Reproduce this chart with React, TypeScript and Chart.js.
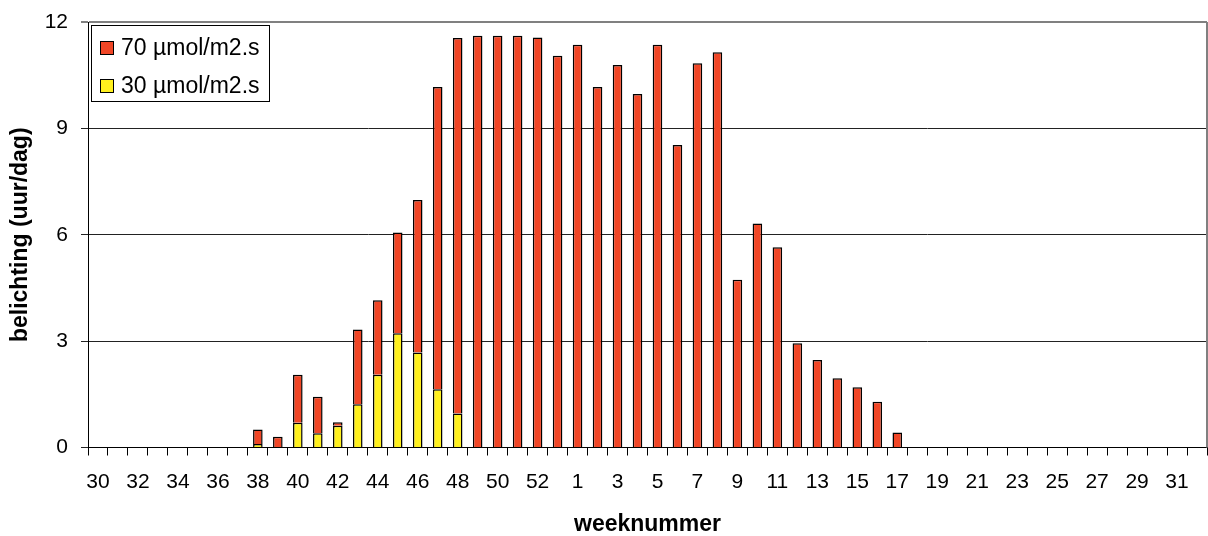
import React, { useEffect, useRef } from 'react';
import { Chart, registerables } from 'chart.js';

Chart.register(...registerables);

// Categories: week numbers (season from week 30 to week 32 of next year)
const weeks = [
  '30', '31', '32', '33', '34', '35', '36', '37', '38', '39', '40', '41', '42', '43', '44', '45',
  '46', '47', '48', '49', '50', '51', '52', '53',
  '1', '2', '3', '4', '5', '6', '7', '8', '9', '10', '11', '12', '13', '14', '15', '16',
  '17', '18', '19', '20', '21', '22', '23', '24', '25', '26', '27', '28', '29', '30', '31', '32',
];

// Series labels
const label70 = '70 µmol/m2.s';
const label30 = '30 µmol/m2.s';

// Hours per day at 70 µmol/m2.s (stacked on top)
const series70 = [
  0, 0, 0, 0, 0, 0, 0, 0,
  0.41, 0.3, 1.35, 1.03, 0.1, 2.11, 2.1, 2.84, 4.3, 8.53, 10.59, 11.61, 11.61, 11.61, 11.56, 11.05,
  11.36, 10.17, 10.79, 9.97, 11.36, 8.53, 10.84, 11.15, 4.73, 6.32, 5.65, 2.94, 2.47, 1.95, 1.7, 1.29, 0.42,
  0, 0, 0, 0, 0, 0, 0, 0, 0, 0, 0, 0, 0, 0, 0,
];

// Hours per day at 30 µmol/m2.s (bottom of stack)
const series30 = [
  0, 0, 0, 0, 0, 0, 0, 0,
  0.1, 0, 0.7, 0.4, 0.61, 1.22, 2.05, 3.22, 2.68, 1.64, 0.96, 0, 0, 0, 0, 0,
  0, 0, 0, 0, 0, 0, 0, 0, 0, 0, 0, 0, 0, 0, 0, 0, 0,
  0, 0, 0, 0, 0, 0, 0, 0, 0, 0, 0, 0, 0, 0, 0,
];

// Y axis range / ticks
const yMin = 0;
const yMax = 12;
const yStep = 3;

const RED = '#F04626';
const YELLOW = '#FFF01E';
const FONT = "'Liberation Sans', Arial, Helvetica, sans-serif";

const framePlugin = {
  id: 'frame',
  beforeDatasetsDraw(chart: any) {
    const { ctx, chartArea } = chart;
    ctx.save();
    ctx.strokeStyle = '#808080';
    ctx.lineWidth = 2;
    ctx.beginPath();
    ctx.moveTo(chartArea.right, chartArea.top);
    ctx.lineTo(chartArea.right, chartArea.bottom);
    ctx.stroke();
    ctx.restore();
  },
};

const legendPlugin = {
  id: 'boxLegend',
  afterDraw(chart: any) {
    const { ctx, chartArea } = chart;
    const x0 = Math.round(chartArea.left + 3) + 0.5;
    const y0 = Math.round(chartArea.top + 3) + 0.5;
    const w = 178;
    const h = 76;
    ctx.save();
    ctx.fillStyle = '#ffffff';
    ctx.fillRect(x0, y0, w, h);
    ctx.strokeStyle = '#000000';
    ctx.lineWidth = 1;
    ctx.strokeRect(x0, y0, w, h);
    const ds = chart.data.datasets;
    const items = [ds[1], ds[0]];
    items.forEach((d: any, k: number) => {
      const cy = y0 + 22 + k * 38.5;
      ctx.fillStyle = d.backgroundColor;
      ctx.fillRect(x0 + 9, Math.round(cy - 7) + 0.5, 13, 13);
      ctx.strokeStyle = '#000000';
      ctx.strokeRect(x0 + 9, Math.round(cy - 7) + 0.5, 13, 13);
      ctx.fillStyle = '#000000';
      ctx.font = `23px ${FONT}`;
      ctx.textBaseline = 'middle';
      ctx.textAlign = 'left';
      ctx.fillText(d.label, x0 + 29.5, cy + 1);
    });
    ctx.restore();
  },
};

export default function App() {
  const canvasRef = useRef<HTMLCanvasElement | null>(null);

  useEffect(() => {
    if (!canvasRef.current) return;
    const chart = new Chart(canvasRef.current, {
      type: 'bar',
      data: {
        labels: weeks,
        datasets: [
          {
            label: label30,
            data: series30,
            backgroundColor: YELLOW,
            borderColor: '#000000',
            borderWidth: 1.5,
            barPercentage: 0.48,
            categoryPercentage: 1,
          },
          {
            label: label70,
            data: series70,
            backgroundColor: RED,
            borderColor: '#000000',
            borderWidth: 1.5,
            barPercentage: 0.48,
            categoryPercentage: 1,
          },
        ],
      },
      options: {
        animation: false,
        responsive: false,
        devicePixelRatio: 1,
        layout: { padding: { top: 22, right: 1, left: 0, bottom: 0 } },
        plugins: {
          legend: { display: false },
          tooltip: { enabled: false },
        },
        scales: {
          x: {
            stacked: true,
            offset: true,
            grid: {
              display: true,
              offset: true,
              drawOnChartArea: false,
              drawTicks: true,
              tickLength: 8,
              color: '#000000',
              lineWidth: 1,
            },
            border: { display: true, color: '#000000', width: 1 },
            ticks: {
              autoSkip: false,
              maxRotation: 0,
              minRotation: 0,
              padding: 14,
              color: '#000000',
              font: { family: FONT, size: 21 },
              callback: (_v: any, i: number) => (i % 2 === 0 ? weeks[i] : ''),
            },
            title: {
              display: true,
              text: 'weeknummer',
              color: '#000000',
              font: { family: FONT, size: 23, weight: 'bold', lineHeight: 1 },
              padding: 0,
            },
            afterFit: (s: any) => {
              s.height = 88.5;
              s.paddingLeft = 0;
              s.paddingRight = 0;
            },
          },
          y: {
            stacked: true,
            min: yMin,
            max: yMax,
            ticks: {
              stepSize: yStep,
              padding: 13,
              color: '#000000',
              font: { family: FONT, size: 21 },
            },
            grid: {
              color: (c: any) => (c.tick && c.tick.value === yMax ? '#808080' : '#222222'),
              lineWidth: (c: any) => (c.tick && c.tick.value === yMax ? 2 : 1),
              tickLength: 7,
            },
            border: { display: true, color: '#000000', width: 1 },
            title: {
              display: true,
              text: 'belichting (uur/dag)',
              color: '#000000',
              font: { family: FONT, size: 23, weight: 'bold', lineHeight: 1 },
              padding: { top: 9, bottom: 0 },
            },
            afterFit: (s: any) => {
              s.width = 88;
              s.paddingTop = 0;
              s.paddingBottom = 0;
            },
          },
        },
      } as any,
      plugins: [framePlugin, legendPlugin],
    });
    return () => chart.destroy();
  }, []);

  return (
    <div style={{ position: 'absolute', left: 0, top: 0, width: 1208, height: 536, background: '#ffffff' }}>
      <canvas ref={canvasRef} width={1208} height={536} style={{ display: 'block' }} />
    </div>
  );
}
